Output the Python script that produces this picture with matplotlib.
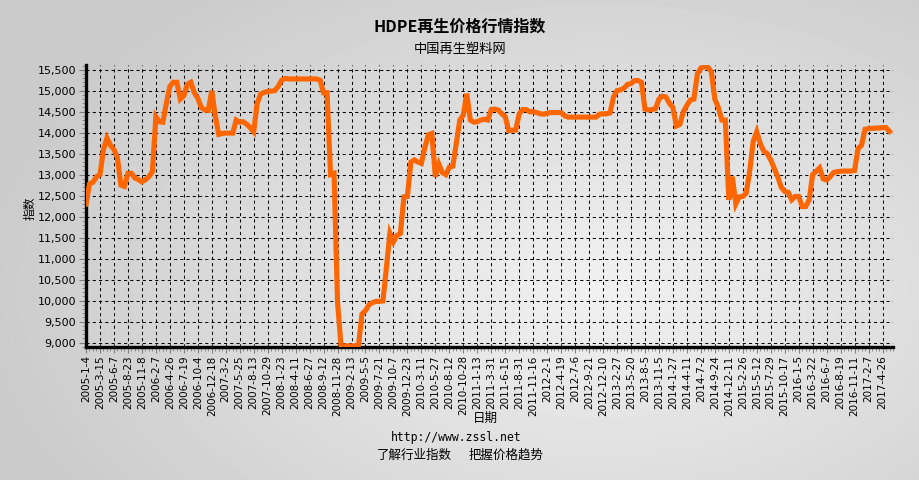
import numpy as np
import matplotlib.pyplot as plt
from matplotlib.ticker import MultipleLocator, FuncFormatter

plt.rcParams['font.family'] = ['Noto Sans CJK SC', 'DejaVu Sans']

# Labels shown on the x axis (one every POINTS_PER_LABEL points)
tick_dates = [
    '2005-1-4', '2005-3-15', '2005-6-7', '2005-8-23', '2005-11-8', '2006-2-7',
    '2006-4-26', '2006-7-19', '2006-10-4', '2006-12-18', '2007-3-2', '2007-5-25',
    '2007-8-13', '2007-10-29', '2008-1-23', '2008-4-11', '2008-6-27', '2008-9-12',
    '2008-11-28', '2009-2-13', '2009-5-5', '2009-7-21', '2009-10-7', '2009-12-23',
    '2010-3-11', '2010-5-27', '2010-8-12', '2010-10-28', '2011-1-13', '2011-3-31',
    '2011-6-15', '2011-8-31', '2011-11-16', '2012-2-1', '2012-4-19', '2012-7-6',
    '2012-9-21', '2012-12-10', '2013-2-27', '2013-5-20', '2013-8-5', '2013-11-5',
    '2014-1-27', '2014-4-11', '2014-7-2', '2014-9-24', '2014-12-11', '2015-2-26',
    '2015-5-12', '2015-7-29', '2015-10-17', '2016-1-5', '2016-3-22', '2016-6-7',
    '2016-8-19', '2016-11-11', '2017-2-7', '2017-4-26',
]
POINTS_PER_LABEL = 4

# Index values (4 points per label interval)
index_values = [
    12300, 12780, 12820, 12950, 13000, 13600, 13870, 13700,
    13600, 13400, 12750, 12720, 13030, 13030, 12920, 12880,
    12830, 12880, 12950, 13070, 14380, 14260, 14250, 14700,
    15100, 15200, 15200, 14800, 14880, 15150, 15200, 14950,
    14820, 14600, 14540, 14530, 15000, 14400, 13960, 13980,
    13990, 13990, 13990, 14300, 14250, 14260, 14200, 14120,
    14020, 14700, 14920, 14960, 14980, 14990, 15000, 15100,
    15250, 15290, 15280, 15280, 15280, 15280, 15280, 15280,
    15280, 15280, 15280, 15250, 14950, 14950, 13000, 13030,
    9960, 8920, 8920, 8920, 8920, 8920, 8930, 9680,
    9760, 9900, 9950, 9980, 9980, 9990, 10800, 11600,
    11400, 11550, 11600, 12470, 12480, 13300, 13350, 13300,
    13270, 13650, 13950, 13980, 12950, 13250, 13050, 13000,
    13180, 13200, 13750, 14300, 14420, 14930, 14300, 14250,
    14260, 14300, 14320, 14300, 14550, 14560, 14540, 14450,
    14380, 14050, 14060, 14060, 14450, 14550, 14550, 14500,
    14500, 14480, 14450, 14440, 14460, 14480, 14480, 14480,
    14480, 14400, 14370, 14370, 14370, 14370, 14370, 14370,
    14370, 14370, 14370, 14440, 14450, 14450, 14470, 14850,
    15000, 15020, 15060, 15150, 15170, 15240, 15240, 15200,
    14560, 14540, 14550, 14570, 14800, 14870, 14850, 14700,
    14600, 14160, 14200, 14500, 14650, 14780, 14800, 15400,
    15540, 15570, 15560, 15450, 14800, 14600, 14300, 14300,
    12400, 12950, 12300, 12470, 12480, 12560, 13100, 13800,
    14020, 13740, 13560, 13500, 13350, 13150, 12950, 12700,
    12600, 12580, 12400, 12480, 12480, 12240, 12240, 12400,
    13000, 13080, 13160, 12900, 12870, 12950, 13050, 13070,
    13080, 13085, 13085, 13085, 13100, 13620, 13700, 14080,
    14100, 14100, 14110, 14110, 14120, 14120, 14030,
]

W, H = 920, 480
fig = plt.figure(figsize=(W / 100, H / 100), dpi=100)

# soft grey radial background
bg = fig.add_axes([0, 0, 1, 1], zorder=0)
yy, xx = np.mgrid[0:H, 0:W]
dist = np.sqrt(((xx - 600) / 620.0) ** 2 + ((yy - 290) / 380.0) ** 2)
shade = 0.945 - 0.15 * np.clip(dist, 0, 1)
bg.imshow(shade, cmap='gray', vmin=0, vmax=1, aspect='auto', interpolation='bilinear')
bg.set_axis_off()

left, right, top, bottom = 86, 893, 65, 347
ax = fig.add_axes([left / W, 1 - bottom / H, (right - left) / W, (bottom - top) / H], zorder=1)
ax.patch.set_alpha(0)

x = np.arange(len(index_values))
ax.plot(x, index_values, color='#ff6600', lw=3.7, zorder=3, solid_joinstyle='miter')

ax.set_xlim(0, 231)
ax.set_ylim(8893, 15612)

major_x = np.arange(len(tick_dates)) * POINTS_PER_LABEL
ax.set_xticks(major_x)
ax.set_xticklabels(tick_dates, rotation=90, fontsize=7.5, family='DejaVu Sans')
ax.xaxis.set_minor_locator(MultipleLocator(1))
ax.yaxis.set_major_locator(MultipleLocator(500))
ax.yaxis.set_minor_locator(MultipleLocator(100))
ax.yaxis.set_major_formatter(FuncFormatter(lambda v, p: f'{int(v):,}'))
for lab in ax.get_yticklabels():
    lab.set_fontsize(8)
    lab.set_family('DejaVu Sans')

ax.tick_params(axis='both', which='both', colors='#808080', labelcolor='black', direction='out')
ax.tick_params(axis='y', which='major', length=5, pad=2)
ax.tick_params(axis='y', which='minor', length=3)
ax.tick_params(axis='x', which='major', length=4, pad=2)
ax.tick_params(axis='x', which='minor', length=3)

for side in ('top', 'right'):
    ax.spines[side].set_visible(False)
for side in ('left', 'bottom'):
    ax.spines[side].set_linewidth(2.4)
    ax.spines[side].set_color('black')

# dashed grid
for v in np.arange(9000, 15501, 500):
    ax.axhline(v, color='black', lw=0.75, ls=(0, (3, 3)), zorder=1)
for xv in major_x[1:]:
    ax.axvline(xv, color='black', lw=0.75, ls=(0, (3, 3)), zorder=1)

fig.text(460 / W, 1 - 27 / H, 'HDPE再生价格行情指数', ha='center', va='center',
         fontsize=11.5, fontweight='bold')
fig.text(460 / W, 1 - 49 / H, '中国再生塑料网', ha='center', va='center', fontsize=9.5)
fig.text(30 / W, 1 - 208 / H, '指数', ha='center', va='center', rotation=90, fontsize=8.5)
fig.text(485 / W, 1 - 418 / H, '日期', ha='center', va='center', fontsize=9)
fig.text(456 / W, 1 - 437 / H, 'http://www.zssl.net', ha='center', va='center',
         fontsize=8.3, family='DejaVu Sans Mono')
fig.text(414 / W, 1 - 455 / H, '了解行业指数', ha='center', va='center', fontsize=9)
fig.text(506 / W, 1 - 455 / H, '把握价格趋势', ha='center', va='center', fontsize=9)

fig.savefig('out.png', dpi=100)
